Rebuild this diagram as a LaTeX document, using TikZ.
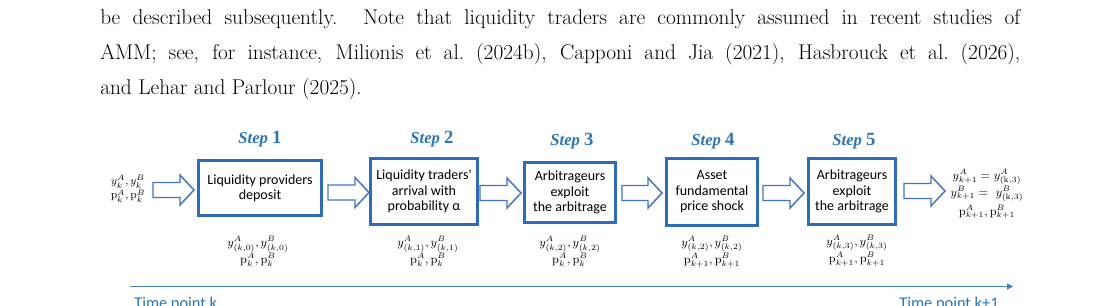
\documentclass[tikz,border=0pt]{standalone}
\usepackage{fontspec}
\newfontfamily\boxfont{Carlito}
\newfontfamily\stepfont{Liberation Serif}
\usetikzlibrary{arrows.meta}
\definecolor{stepblue}{RGB}{46,117,182}
\definecolor{boxblue}{RGB}{47,108,184}
\definecolor{arrowblue}{RGB}{68,114,196}
\definecolor{lineblue}{RGB}{74,126,187}
\newcommand\pP{\mathrm{p}}
\newcommand\blkarrow[4]{%
  \draw[blockarrow] ({#1},{#3-7.5}) -- ({#2-14},{#3-7.5}) -- ({#2-14},{#3-15}) -- ({#2},{#3})
    -- ({#2-14},{#3+15}) -- ({#2-14},{#3+7.5}) -- ({#1},{#3+7.5}) -- cycle;}
\tikzset{
  procbox/.style={draw=boxblue, line width=2.2pt, fill=white, align=center,
    font=\boxfont\fontsize{10.5}{11.6}\selectfont, inner sep=0pt},
  steplabel/.style={text=stepblue, inner sep=0pt, font=\stepfont\bfseries\fontsize{12.5}{14}\selectfont},
  blockarrow/.style={draw=arrowblue, line width=1.1pt, fill=white, line join=miter},
  mathlabel/.style={align=center, inner sep=0pt, font=\fontsize{9}{12.75}\selectfont},
  timeline/.style={draw=lineblue, line width=1.4pt, -{Triangle[length=4.5pt,width=4.5pt]}},
  timelabel/.style={anchor=base west, inner sep=0pt, text=stepblue, font=\boxfont\fontsize{12.3}{14}\selectfont},
  paraline/.style={anchor=base west, inner sep=0pt, font=\fontsize{16}{20}\selectfont}
}
\begin{document}
\begin{tikzpicture}[x=0.75pt,y=-0.75pt]
\clip (0,0) rectangle (1120,305);
\fill[white] (0,0) rectangle (1120,305);

% paragraph text
\node[paraline] (p1) at (100,24) {\makebox[690pt][s]{be described subsequently. Note that liquidity traders are commonly assumed in recent studies of}};
\node[paraline] (p2) at (100,59) {\makebox[690pt][s]{AMM; see, for instance, Milionis et al.\ (2024b), Capponi and Jia (2021), Hasbrouck et al.\ (2026),}};
\node[paraline] (p3) at (100,94) {and Lehar and Parlour (2025).};

% step labels
\node[steplabel] (s1) at (260,139) {\textit{Step} {\fontsize{14}{14}\selectfont 1}};
\node[steplabel] (s2) at (432,139) {\textit{Step} {\fontsize{14}{14}\selectfont 2}};
\node[steplabel] (s3) at (572,141) {\textit{Step} {\fontsize{14}{14}\selectfont 3}};
\node[steplabel] (s4) at (713,141) {\textit{Step} {\fontsize{14}{14}\selectfont 4}};
\node[steplabel] (s5) at (854,141) {\textit{Step} {\fontsize{14}{14}\selectfont 5}};

% boxes
\node[procbox, minimum width=92.3pt, minimum height=41.3pt] (b1) at (260,188) {Liquidity providers\\deposit};
\node[procbox, minimum width=80.3pt, minimum height=49.5pt] (b2) at (424,191.5) {Liquidity traders'\\arrival with\\probability α};
\node[procbox, minimum width=68.3pt, minimum height=45pt] (b3) at (570,192.5) {Arbitrageurs\\exploit\\the arbitrage};
\node[procbox, minimum width=68.3pt, minimum height=50.3pt] (b4) at (712,192) {Asset\\fundamental\\price shock};
\node[procbox, minimum width=65.3pt, minimum height=49.5pt] (b5) at (852,191.5) {Arbitrageurs\\exploit\\the arbitrage};

% input / output
\node[mathlabel, font=\fontsize{8.5}{11}\selectfont] (in) at (128,189) {$y_k^A, y_k^B$\\$\pP_k^A, \pP_k^B$};
\node[align=center, inner sep=0pt, font=\fontsize{9}{12.5}\selectfont] (out) at (987,194) {$y_{k+1}^A = y_{(\mathrm{k},3)}^A$\\$y_{k+1}^B = \ y_{(\mathrm{k},3)}^B$\\[1.8pt]$\pP_{k+1}^A, \pP_{k+1}^B$};

% block arrows
\blkarrow{153}{194}{190}{a0}
\blkarrow{328}{369}{192.5}{a1}
\blkarrow{480}{521}{193}{a2}
\blkarrow{622}{662}{193}{a3}
\blkarrow{763}{804}{193}{a4}
\blkarrow{904}{945}{191}{a5}

% values under boxes
\node[mathlabel] (v1) at (258,251.5) {$y_{(k,0)}^A, y_{(k,0)}^B$\\$\pP_k^A, \pP_k^B$};
\node[mathlabel] (v2) at (428,251.5) {$y_{(k,1)}^A, y_{(k,1)}^B$\\$\pP_k^A, \pP_k^B$};
\node[mathlabel] (v3) at (570,251.5) {$y_{(k,2)}^A, y_{(k,2)}^B$\\$\pP_k^A, \pP_k^B$};
\node[mathlabel] (v4) at (712,251.5) {$y_{(k,2)}^A, y_{(k,2)}^B$\\$\pP_{k+1}^A, \pP_{k+1}^B$};
\node[mathlabel] (v5) at (857,251) {$y_{(k,3)}^A, y_{(k,3)}^B$\\$\pP_{k+1}^A, \pP_{k+1}^B$};

% timeline
\coordinate (t0) at (130,286.5);
\coordinate (t1) at (1013,286.5);
\draw[timeline] (t0) -- (t1);
\node[timelabel] (tk) at (134,308) {Time point k};
\node[timelabel] (tk1) at (899,308) {Time point k+1};
\end{tikzpicture}
\end{document}
